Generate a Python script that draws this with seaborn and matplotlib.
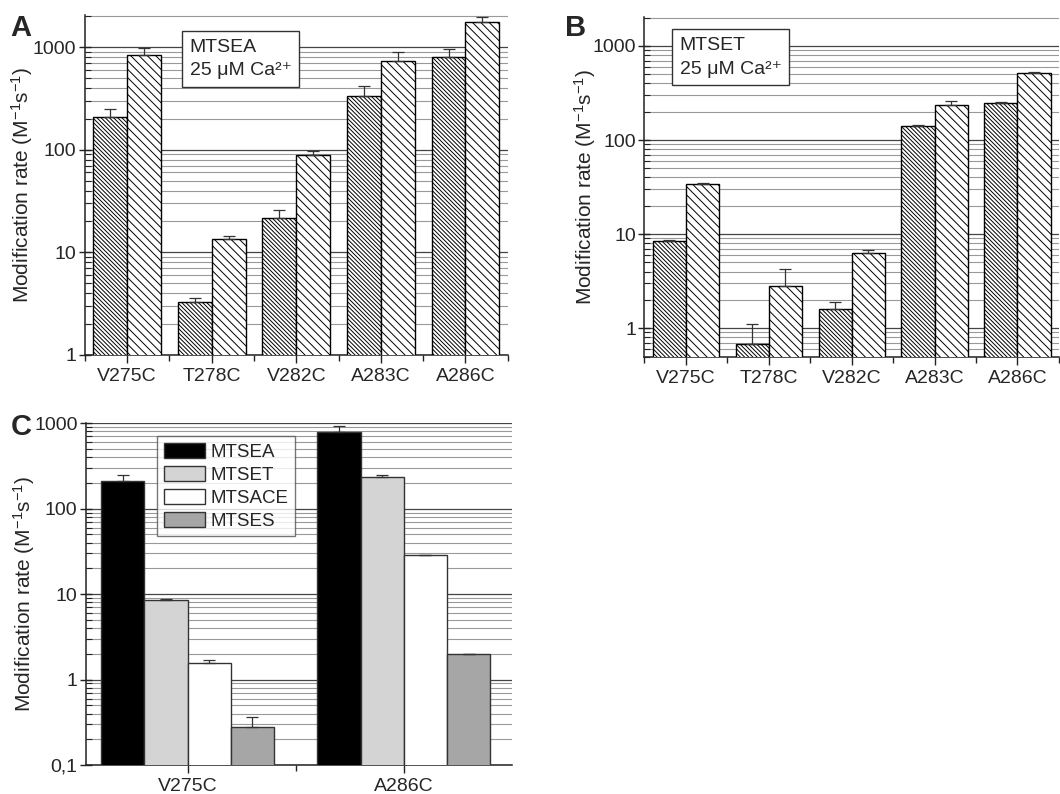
import numpy as np
import pandas as pd
import matplotlib
matplotlib.use("Agg")
import matplotlib.pyplot as plt
import matplotlib.ticker as mticker
from matplotlib.patches import Patch
import seaborn as sns

sns.set_theme(style="white")
plt.rcParams['font.family'] = ['Liberation Sans', 'DejaVu Sans']
plt.rcParams['mathtext.default'] = 'regular'
plt.rcParams['hatch.linewidth'] = 0.7

# ---------------- data ----------------
mutants = ['V275C', 'T278C', 'V282C', 'A283C', 'A286C']
states = ['state 1', 'state 2']

A_rate1 = [208, 3.3, 21.5, 334, 799]
A_top1 = [249, 3.6, 25.8, 417, 956]
A_rate2 = [836, 13.5, 89, 731, 1752]
A_top2 = [978, 14.4, 97, 894, 1959]

B_rate1 = [8.4, 0.68, 1.6, 141, 247]
B_top1 = [8.6, 1.1, 1.9, 146, 256]
B_rate2 = [34, 2.8, 6.3, 236, 515]
B_top2 = [35, 4.3, 6.7, 258, 525]

C_mutants = ['V275C', 'A286C']
reagents = ['MTSEA', 'MTSET', 'MTSACE', 'MTSES']
C_rates = {'MTSEA': [208, 785], 'MTSET': [8.5, 234], 'MTSACE': [1.56, 28.6], 'MTSES': [0.28, 2.0]}
C_tops = {'MTSEA': [249, 923], 'MTSET': [8.7, 246], 'MTSACE': [1.68, 28.6], 'MTSES': [0.36, 2.0]}
C_colors = ['#000000', '#d4d4d4', '#ffffff', '#a6a6a6']

ylab = 'Modification rate (M$^{-1}$s$^{-1}$)'
FS = 14


def style_log_axis(ax, ymin, ymax, ticks, labels, label_x):
    ax.set_yscale('log')
    ax.set_ylim(ymin, ymax)
    ax.yaxis.set_major_locator(mticker.FixedLocator(ticks))
    ax.yaxis.set_major_formatter(mticker.FixedFormatter(labels))
    ax.yaxis.set_minor_locator(mticker.LogLocator(base=10, subs=np.arange(2, 10)))
    ax.yaxis.set_minor_formatter(mticker.NullFormatter())
    ax.grid(False)
    ax.grid(True, which='major', axis='y', color='#444444', lw=0.9, zorder=0)
    ax.grid(True, which='minor', axis='y', color='#999999', lw=0.8, zorder=0)
    ax.set_axisbelow(True)
    for s in ['top', 'right']:
        ax.spines[s].set_visible(False)
    for s in ['left', 'bottom']:
        ax.spines[s].set_color('#222222')
        ax.spines[s].set_linewidth(1.1)
    ax.tick_params(axis='y', which='major', direction='inout', length=8, width=1,
                   labelsize=FS, left=True, color='#222222', pad=2)
    ax.tick_params(axis='y', which='minor', direction='in', length=4, width=0.8,
                   left=True, color='#222222')
    ax.tick_params(axis='x', which='major', direction='out', length=6, width=1,
                   labelsize=FS, bottom=True, color='#222222')
    ax.tick_params(axis='x', which='minor', direction='out', length=4, width=1,
                   bottom=True, color='#222222')
    ax.set_ylabel(ylab, fontsize=15, va='center')
    ax.yaxis.set_label_coords(label_x, 0.5)
    ax.set_xlabel('')


def add_errors(ax, containers, tops):
    for cont, top in zip(containers, tops):
        xs = [p.get_x() + p.get_width() / 2 for p in cont.patches]
        hs = [p.get_height() for p in cont.patches]
        up = [max(t - h, 0) for t, h in zip(top, hs)]
        ax.errorbar(xs, hs, yerr=[np.zeros(len(hs)), up], fmt='none',
                    ecolor='#333333', elinewidth=0.9, capsize=4, capthick=0.9, zorder=4)


def hatched_panel(ax, r1, t1, r2, t2, ymin, ymax, ticks, labels, title_txt, box_xy, label_x):
    df = pd.DataFrame({
        'mutant': mutants * 2,
        'rate': r1 + r2,
        'state': [states[0]] * 5 + [states[1]] * 5,
    })
    sns.barplot(data=df, x='mutant', y='rate', hue='state', order=mutants,
                hue_order=states, palette=['white', 'white'], edgecolor='black',
                linewidth=1.0, errorbar=None, ax=ax, legend=False, zorder=3)
    hatches = ['\\' * 8, '\\' * 4]
    for cont, h in zip(ax.containers, hatches):
        for p in cont.patches:
            p.set_hatch(h)
            p.set_zorder(3)
    add_errors(ax, ax.containers, [t1, t2])
    style_log_axis(ax, ymin, ymax, ticks, labels, label_x)
    ax.set_xlim(-0.5, 4.5)
    ax.xaxis.set_minor_locator(mticker.FixedLocator(np.arange(-0.5, 4.6, 1.0)))
    ax.text(box_xy[0], box_xy[1], title_txt, transform=ax.transAxes, ha='left',
            va='top', fontsize=FS, linespacing=1.5, zorder=6,
            bbox=dict(boxstyle='square,pad=0.4', fc='white', ec='#333333', lw=1))


fig = plt.figure(figsize=(10.6, 7.94), dpi=100)
axA = fig.add_axes([0.080, 0.553, 0.399, 0.428])
axB = fig.add_axes([0.608, 0.551, 0.391, 0.428])
axC = fig.add_axes([0.081, 0.0365, 0.402, 0.4305])

hatched_panel(axA, A_rate1, A_top1, A_rate2, A_top2, 1, 2050,
              [1, 10, 100, 1000], ['1', '10', '100', '1000'],
              'MTSEA\n25 μM Ca²⁺', (0.248, 0.93), -0.148)
hatched_panel(axB, B_rate1, B_top1, B_rate2, B_top2, 0.5, 2050,
              [1, 10, 100, 1000], ['1', '10', '100', '1000'],
              'MTSET\n25 μM Ca²⁺', (0.085, 0.94), -0.143)

# panel C
dfc = pd.DataFrame({
    'mutant': C_mutants * len(reagents),
    'rate': sum([C_rates[r] for r in reagents], []),
    'reagent': sum([[r] * len(C_mutants) for r in reagents], []),
})
sns.barplot(data=dfc, x='mutant', y='rate', hue='reagent', order=C_mutants,
            hue_order=reagents, palette=C_colors, edgecolor='#333333',
            linewidth=1.0, errorbar=None, ax=axC, legend=False, zorder=3,
            saturation=1)
add_errors(axC, axC.containers, [C_tops[r] for r in reagents])
style_log_axis(axC, 0.1, 1000, [0.1, 1, 10, 100, 1000],
               ['0,1', '1', '10', '100', '1000'], -0.146)
axC.set_xlim(-0.47, 1.5)
axC.xaxis.set_minor_locator(mticker.FixedLocator([0.5]))
handles = [Patch(facecolor=c, edgecolor='#333333', lw=1) for c in C_colors]
leg = axC.legend(handles, reagents, loc='upper left', bbox_to_anchor=(0.167, 0.962),
                 fontsize=13.5, frameon=True, fancybox=False, edgecolor='#555555',
                 handlelength=2.2, handleheight=0.9, handletextpad=0.3,
                 labelspacing=0.25, borderpad=0.35, borderaxespad=0)
leg.get_frame().set_linewidth(1)
leg.set_zorder(6)

for lbl, x, y in [('A', 0.010, 0.965), ('B', 0.533, 0.965), ('C', 0.010, 0.462)]:
    fig.text(x, y, lbl, fontsize=21, fontweight='bold', ha='left', va='center')

fig.savefig('out.png', dpi=100)
